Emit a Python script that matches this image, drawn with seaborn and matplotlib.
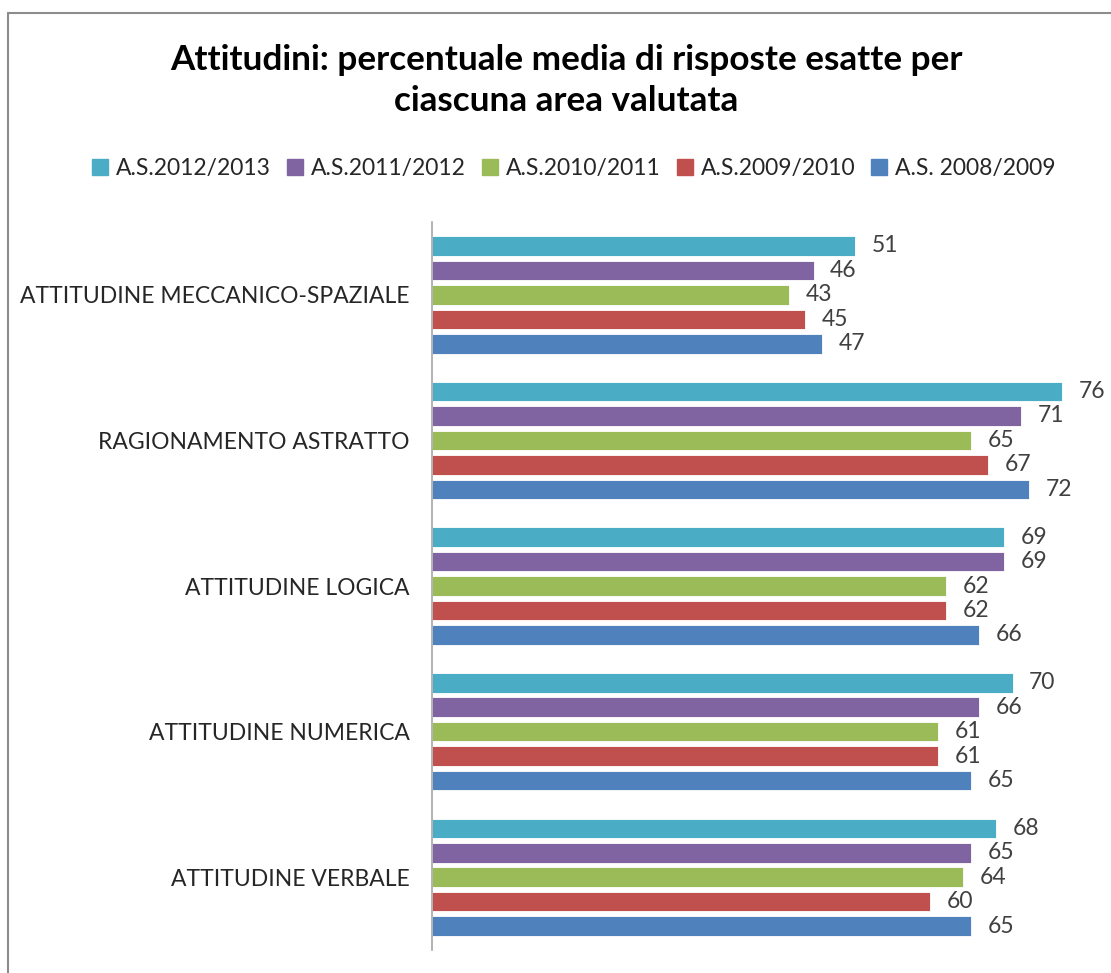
import matplotlib
matplotlib.use("Agg")
import matplotlib.pyplot as plt
import seaborn as sns
import pandas as pd
from matplotlib.lines import Line2D

categories = ["ATTITUDINE MECCANICO-SPAZIALE", "RAGIONAMENTO ASTRATTO",
              "ATTITUDINE LOGICA", "ATTITUDINE NUMERICA", "ATTITUDINE VERBALE"]
series = ["A.S.2012/2013", "A.S.2011/2012", "A.S.2010/2011", "A.S.2009/2010", "A.S. 2008/2009"]
v_2012_2013 = [51, 76, 69, 70, 68]
v_2011_2012 = [46, 71, 69, 66, 65]
v_2010_2011 = [43, 65, 62, 61, 64]
v_2009_2010 = [45, 67, 62, 61, 60]
v_2008_2009 = [47, 72, 66, 65, 65]
colors = ["#4BACC6", "#8064A2", "#9BBB59", "#C0504D", "#4F81BD"]

values = [v_2012_2013, v_2011_2012, v_2010_2011, v_2009_2010, v_2008_2009]
rows = []
for s, vals in zip(series, values):
    for c, v in zip(categories, vals):
        rows.append({"cat": c, "serie": s, "val": v})
df = pd.DataFrame(rows)

sns.set_theme(style="white")
plt.rcParams["font.family"] = ["Lato", "DejaVu Sans"]

fig = plt.figure(figsize=(11.11, 9.73), dpi=100)
ax = fig.add_axes([0.389, 0.0236, 0.597, 0.7482])

sns.barplot(data=df, y="cat", x="val", hue="serie", order=categories,
            hue_order=series, palette=colors, orient="h", width=0.84, gap=0.2,
            ax=ax, legend=False, edgecolor="white", linewidth=0.6, saturation=1)

ax.set_xlim(0, 80)
ax.set_ylim(4.5, -0.5)
ax.set_xlabel("")
ax.set_ylabel("")
ax.set_xticks([])
for sp in ["top", "right", "bottom"]:
    ax.spines[sp].set_visible(False)
ax.spines["left"].set_color("#a6a6a6")
ax.spines["left"].set_linewidth(1.2)
ax.tick_params(axis="y", length=0, pad=16, labelsize=16.5, labelcolor="#262626")

for cont in ax.containers:
    ax.bar_label(cont, padding=12, fontsize=16.5, color="#404040")

fig.text(0.51, 0.917, "Attitudini: percentuale media di risposte esatte per\nciascuna area valutata",
         ha="center", va="center", fontsize=25.3, fontweight="bold", color="black",
         linespacing=1.33)

handles = [Line2D([0], [0], marker="s", linestyle="none", markersize=11,
                  markerfacecolor=c, markeredgecolor=c) for c in colors]
fig.legend(handles, series, loc="center", bbox_to_anchor=(0.515, 0.827), ncol=5,
           frameon=False, fontsize=16.5, handletextpad=0.2, columnspacing=0.55,
           handlelength=1.0, labelcolor="#262626")

# chart border (top and left visible)
fig.add_artist(Line2D([0.0072, 1.0], [0.9866, 0.9866], transform=fig.transFigure,
                      color="#8c8c8c", linewidth=1.5))
fig.add_artist(Line2D([0.0072, 0.0072], [0.0, 0.9866], transform=fig.transFigure,
                      color="#8c8c8c", linewidth=1.5))

fig.savefig("out.png", dpi=100, facecolor="white")
